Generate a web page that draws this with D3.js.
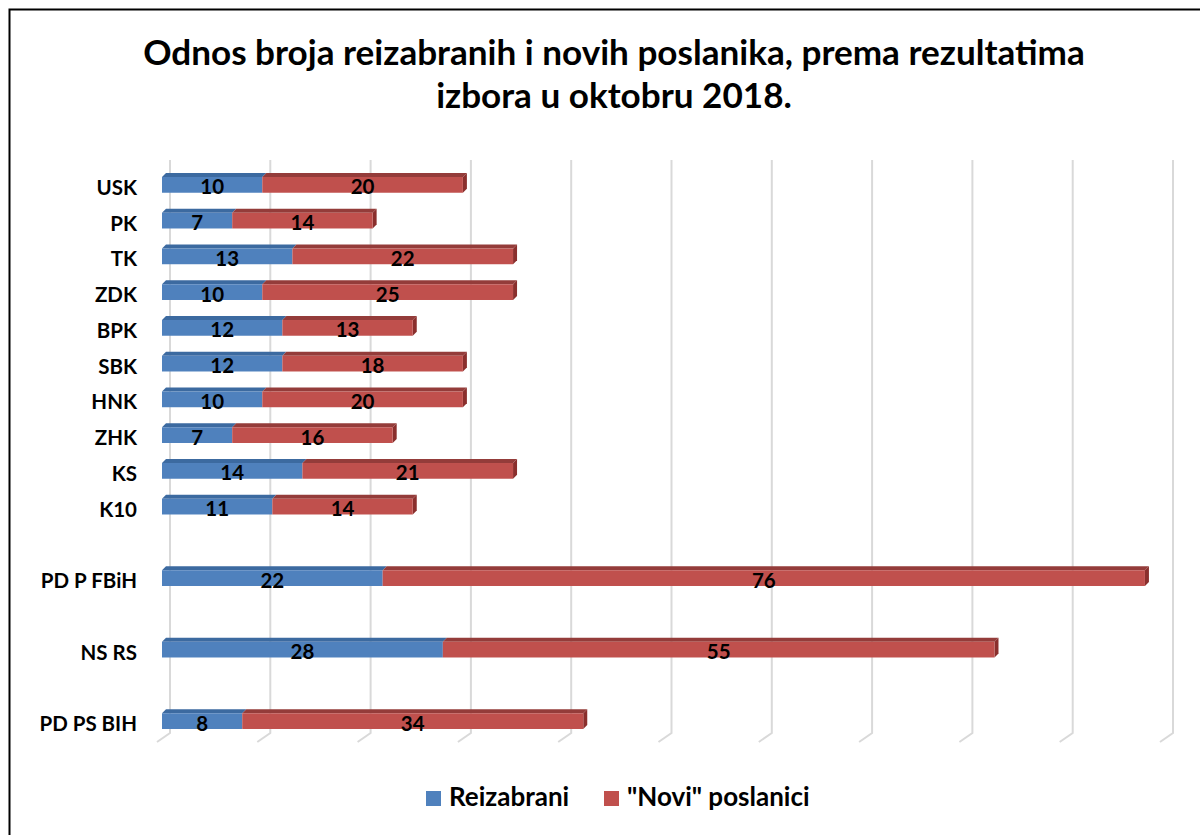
<!DOCTYPE html>
<html>
<head>
<meta charset="utf-8">
<title>Odnos broja reizabranih i novih poslanika</title>
<script src="https://d3js.org/d3.v7.min.js"></script>
<style>
  body { margin: 0; background: #fff; }
  text { font-family: Lato, "Open Sans", sans-serif; font-weight: bold; }
</style>
</head>
<body>
<script>
// categories top to bottom, "" = empty slot between the groups
var categories = ["USK", "PK", "TK", "ZDK", "BPK", "SBK", "HNK", "ZHK", "KS", "K10",
                  "", "PD P FBiH", "", "NS RS", "", "PD PS BIH"];
var reizabrani = [10, 7, 13, 10, 12, 12, 10, 7, 14, 11, null, 22, null, 28, null, 8];
var novi       = [20, 14, 22, 25, 13, 18, 20, 16, 21, 14, null, 76, null, 55, null, 34];
var seriesNames = ["Reizabrani", "\"Novi\" poslanici"];
var ticks = [0, 10, 20, 30, 40, 50, 60, 70, 80, 90, 100];

var w = 1200, h = 835;
var blue = "#4f81bd", red = "#c0504d";
var dx = 4, dy = 4;        // bar depth (3d look)
var wallOff = 8;           // gridlines sit on the back wall

var svg = d3.select("body").append("svg").attr("width", w).attr("height", h);

// chart frame (only left/top visible in the picture)
svg.append("rect").attr("x", 9.5).attr("y", 9.5).attr("width", 1300).attr("height", 900)
  .attr("fill", "none").attr("stroke", "#000").attr("stroke-width", 2);

// title - size it so the first line spans about the same width as the original
var title = svg.append("text").attr("text-anchor", "middle").attr("font-size", 30).attr("fill", "#000");
var t1 = title.append("tspan").attr("x", 614).attr("y", 65).text("Odnos broja reizabranih i novih poslanika, prema rezultatima");
title.append("tspan").attr("x", 614).attr("y", 108).text("izbora u oktobru 2018.");
var len = t1.node().getComputedTextLength();
title.attr("font-size", Math.min(36, 30 * 942 / len));

var x = d3.scaleLinear().domain([0, 100]).range([162, 1165]);
var y = d3.scaleBand().domain(d3.range(categories.length)).range([167, 739]).paddingInner(0.56).paddingOuter(0.28);

// gridlines with the slanted floor part
var gridTop = 160, gridBot = 733;
var grid = svg.append("g");
grid.selectAll("path").data(ticks).enter().append("path")
  .attr("d", function(d) {
    var gx = x(d) + wallOff;
    return "M" + gx + "," + gridTop + "V" + gridBot + "L" + (gx - 13) + "," + (gridBot + 9);
  })
  .attr("fill", "none").attr("stroke", "#d9d9d9").attr("stroke-width", 2);

// build segments
var segs = [];
categories.forEach(function(c, i) {
  if (reizabrani[i] == null) return;
  segs.push({i: i, x0: 0, x1: reizabrani[i], v: reizabrani[i], col: blue, top: "#3c6aa0", side: "#345c8c"});
  segs.push({i: i, x0: reizabrani[i], x1: reizabrani[i] + novi[i], v: novi[i], col: red, top: "#943c3a", side: "#8a2f2d"});
});

var bars = svg.append("g");
var bh = y.bandwidth();
var g = bars.selectAll("g").data(segs).enter().append("g");
// top face
g.append("path").attr("d", function(d) {
    var a = x(d.x0), b = x(d.x1), t = y(d.i);
    return "M" + a + "," + t + "L" + (a + dx) + "," + (t - dy) + "L" + (b + dx) + "," + (t - dy) + "L" + b + "," + t + "Z";
  }).attr("fill", function(d) { return d.top; });
// right face (only visible on outer end)
g.filter(function(d) { return d.col === red; }).append("path").attr("d", function(d) {
    var b = x(d.x1), t = y(d.i);
    return "M" + b + "," + t + "L" + (b + dx) + "," + (t - dy) + "L" + (b + dx) + "," + (t + bh - dy) + "L" + b + "," + (t + bh) + "Z";
  }).attr("fill", function(d) { return d.side; });
// front face
g.append("rect")
  .attr("x", function(d) { return x(d.x0); })
  .attr("y", function(d) { return y(d.i); })
  .attr("width", function(d) { return x(d.x1) - x(d.x0); })
  .attr("height", bh)
  .attr("fill", function(d) { return d.col; });

// value labels
svg.append("g").selectAll("text").data(segs).enter().append("text")
  .attr("x", function(d) { return (x(d.x0) + x(d.x1)) / 2; })
  .attr("y", function(d) { return y(d.i) + bh / 2 + 2; })
  .attr("dy", "0.36em")
  .attr("text-anchor", "middle").attr("font-size", 20.5).attr("fill", "#000")
  .text(function(d) { return d.v; });

// category labels
svg.append("g").selectAll("text").data(categories).enter().append("text")
  .attr("x", 137)
  .attr("y", function(d, i) { return y(i) + bh / 2 + 2.5; })
  .attr("dy", "0.36em")
  .attr("text-anchor", "end").attr("font-size", 20.5).attr("fill", "#000")
  .text(function(d) { return d; });

// legend
var legend = svg.append("g");
var legX = [426, 604];
[blue, red].forEach(function(c, k) {
  legend.append("rect").attr("x", legX[k]).attr("y", 791).attr("width", 15).attr("height", 15).attr("fill", c);
  legend.append("text").attr("x", legX[k] + 23).attr("y", 806)
    .attr("font-size", 26).attr("fill", "#000").text(seriesNames[k]);
});
</script>
</body>
</html>
